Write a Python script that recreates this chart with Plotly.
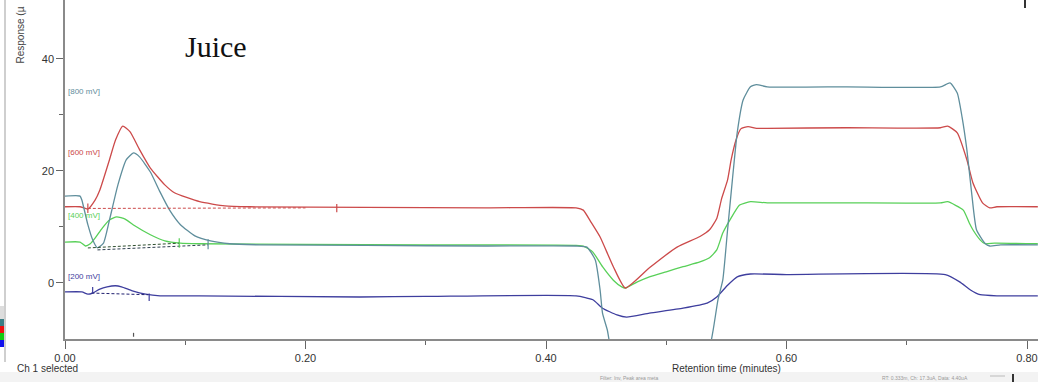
import plotly.graph_objects as go

# ---------------- data ----------------
t_800 = [0.0, 0.0125, 0.014, 0.019, 0.023, 0.027, 0.032, 0.037, 0.044, 0.051,
         0.057, 0.062, 0.071, 0.079, 0.087, 0.096, 0.108, 0.121, 0.137, 0.162,
         0.25, 0.35, 0.425, 0.434, 0.441, 0.445, 0.447, 0.451, 0.455, 0.50,
         0.535, 0.539, 0.543, 0.547, 0.551, 0.555, 0.559, 0.564, 0.570, 0.575,
         0.584, 0.65, 0.728, 0.736, 0.742, 0.746, 0.750, 0.754, 0.758, 0.765,
         0.769, 0.778, 0.809]
r_800 = [15.5, 15.5, 14.8, 10.4, 7.7, 6.25, 7.1, 11.25, 17.5, 22.0,
         23.2, 22.5, 19.8, 16.25, 13.0, 10.4, 8.4, 7.5, 7.0, 6.8,
         6.7, 6.6, 6.6, 6.4, 4.1, -1.25, -5.4, -8.4, -12.0, -16.0,
         -12.0, -8.4, -3.0, 0.5, 9.5, 18.4, 26.8, 32.7, 35.0, 35.4,
         35.0, 35.0, 35.0, 35.7, 33.9, 29.6, 23.75, 16.0, 9.5, 7.1,
         6.6, 6.8, 6.8]

t_600 = [0.0, 0.0125, 0.019, 0.025, 0.029, 0.037, 0.042, 0.048, 0.054, 0.062,
         0.071, 0.083, 0.091, 0.112, 0.133, 0.154, 0.25, 0.35, 0.425, 0.431,
         0.437, 0.445, 0.456, 0.466, 0.486, 0.509, 0.528, 0.536, 0.542, 0.546,
         0.551, 0.554, 0.558, 0.562, 0.568, 0.575, 0.584, 0.65, 0.728, 0.734,
         0.742, 0.750, 0.755, 0.763, 0.769, 0.775, 0.809]
r_600 = [13.6, 13.6, 13.2, 14.8, 16.6, 22.0, 25.5, 28.0, 27.0, 23.8,
         20.5, 17.5, 16.1, 14.5, 13.75, 13.6, 13.5, 13.4, 13.4, 13.0,
         11.0, 8.2, 2.9, -0.9, 2.7, 6.4, 8.3, 9.5, 11.5, 15.0,
         18.4, 22.0, 25.5, 27.5, 27.9, 27.6, 27.6, 27.7, 27.7, 28.0,
         26.8, 22.0, 17.9, 14.3, 13.4, 13.6, 13.6]

t_400 = [0.0, 0.0125, 0.017, 0.021, 0.025, 0.031, 0.037, 0.043, 0.050, 0.058,
         0.071, 0.083, 0.096, 0.112, 0.2, 0.3, 0.425, 0.432, 0.439, 0.447,
         0.456, 0.463, 0.466, 0.476, 0.486, 0.5, 0.514, 0.528, 0.536, 0.542,
         0.547, 0.553, 0.561, 0.570, 0.584, 0.65, 0.728, 0.734, 0.747, 0.752,
         0.755, 0.761, 0.765, 0.773, 0.809]
r_400 = [7.3, 7.3, 6.6, 7.0, 8.0, 9.8, 11.25, 11.8, 11.4, 10.2,
         8.6, 7.5, 7.1, 7.0, 6.9, 6.8, 6.7, 6.5, 5.5, 2.9,
         0.5, -0.7, -0.9, 0.2, 1.1, 2.0, 2.9, 3.75, 4.5, 5.9,
         8.9, 11.25, 13.9, 14.5, 14.3, 14.3, 14.3, 14.5, 13.0, 10.7,
         9.5, 7.7, 7.0, 7.1, 7.0]

t_200 = [0.0, 0.014, 0.019, 0.023, 0.029, 0.035, 0.042, 0.047, 0.056, 0.067,
         0.079, 0.112, 0.245, 0.3, 0.425, 0.439, 0.447, 0.459, 0.467, 0.486,
         0.514, 0.534, 0.542, 0.551, 0.559, 0.57, 0.6, 0.732, 0.744, 0.753,
         0.761, 0.775, 0.809]
r_200 = [-1.6, -1.6, -2.0, -1.8, -1.1, -0.7, -0.5, -0.7, -1.4, -2.0,
         -2.3, -2.3, -2.5, -2.4, -2.3, -3.0, -4.5, -5.7, -6.1, -5.4,
         -4.5, -3.6, -2.5, -0.4, 1.1, 1.6, 1.5, 1.5, 0.2, -1.25,
         -2.1, -2.3, -2.3]

channel_labels = ["[800 mV]", "[600 mV]", "[400 mV]", "[200 mV]"]
label_levels = [34.1, 23.2, 12.1, 1.1]

# integration baselines (start x, end x, start y, end y)
base_x0 = [0.019, 0.019, 0.027, 0.022]
base_x1 = [0.20, 0.095, 0.119, 0.069]
base_y0 = [13.3, 6.25, 5.9, -1.8]
base_y1 = [13.4, 7.1, 6.8, -2.1]

# peak start/end markers
mark_x = [0.019, 0.226, 0.095, 0.119, 0.023, 0.070, 0.057]
mark_lo = [12.5, 12.6, 6.3, 6.0, -1.9, -3.2, -9.6]
mark_hi = [14.2, 14.1, 8.0, 7.8, -0.7, -1.9, -8.9]

x_ticks = [0.0, 0.2, 0.4, 0.6, 0.8]
y_ticks = [0, 20, 40]

# ---------------- style ----------------
C800, C600, C400, C200 = "#5f8e9c", "#cc4a4a", "#58d058", "#3e3e9e"
base_colors = [C600, "#2f4f2f", "#2f3f4f", "#202070"]
mark_colors = [C600, C600, C400, C800, C200, C200, "#555555"]

W, H = 1038, 382
ML, MB = 65, 43
PW, PH = W - ML, H - MB


def px(xp):
    return (xp - ML) / PW


def py(yp):
    return (PH - yp) / PH


fig = go.Figure()
for t, r, c in [(t_200, r_200, C200), (t_400, r_400, C400),
                (t_600, r_600, C600), (t_800, r_800, C800)]:
    fig.add_trace(go.Scatter(x=t, y=r, mode="lines",
                             line=dict(color=c, width=1.3, shape="spline", smoothing=0.5),
                             hoverinfo="skip", showlegend=False))

for i in range(len(base_x0)):
    fig.add_trace(go.Scatter(x=[base_x0[i], base_x1[i]], y=[base_y0[i], base_y1[i]],
                             mode="lines", line=dict(color=base_colors[i], width=1, dash="3px,2px"),
                             hoverinfo="skip", showlegend=False))

for i in range(len(mark_x)):
    fig.add_trace(go.Scatter(x=[mark_x[i], mark_x[i]], y=[mark_lo[i], mark_hi[i]],
                             mode="lines", line=dict(color=mark_colors[i], width=1.2),
                             hoverinfo="skip", showlegend=False))

label_colors = [C800, C600, C400, C200]
annotations = []
for lab, lv, c in zip(channel_labels, label_levels, label_colors):
    annotations.append(dict(x=0.001, y=lv, xref="x", yref="y", text=lab, showarrow=False,
                            xanchor="left", yanchor="middle",
                            font=dict(family="Liberation Sans", size=8, color=c)))

annotations += [
    dict(x=px(216), y=py(47), xref="paper", yref="paper", text="Juice", showarrow=False,
         xanchor="center", yanchor="middle",
         font=dict(family="Liberation Serif", size=30, color="#111111")),
    dict(x=px(20), y=py(66), xref="paper", yref="paper", text="Response (µ", showarrow=False,
         textangle=-90, xanchor="center", yanchor="bottom",
         font=dict(family="Liberation Sans", size=10, color="#444444")),
    dict(x=px(670), y=py(368), xref="paper", yref="paper", text="Retention time (minutes)",
         showarrow=False, xanchor="left", yanchor="middle",
         font=dict(family="Liberation Sans", size=10, color="#333333")),
    dict(x=px(15), y=py(368), xref="paper", yref="paper", text="Ch 1 selected",
         showarrow=False, xanchor="left", yanchor="middle",
         font=dict(family="Liberation Sans", size=10, color="#333333")),
    dict(x=px(598), y=py(378), xref="paper", yref="paper", text="Filter: Inv, Peak area meta",
         showarrow=False, xanchor="left", yanchor="middle",
         font=dict(family="Liberation Sans", size=5, color="#999999")),
    dict(x=px(880), y=py(378), xref="paper", yref="paper", text="RT: 0.333m, Ch: 17.3uA, Data: 4.40uA",
         showarrow=False, xanchor="left", yanchor="middle",
         font=dict(family="Liberation Sans", size=5, color="#999999")),
]

shapes = [
    # bottom status strip
    dict(type="rect", xref="paper", yref="paper", x0=px(0), x1=px(W), y0=py(372), y1=py(H),
         fillcolor="#f3f3f3", line=dict(width=0), layer="below"),
    # left panel edge
    dict(type="line", xref="paper", yref="paper", x0=px(5), x1=px(5), y0=py(0), y1=py(362),
         line=dict(color="#cfcfcf", width=2)),
    # colour swatches
    dict(type="rect", xref="paper", yref="paper", x0=px(0), x1=px(4), y0=py(306), y1=py(319),
         fillcolor="#dddddd", line=dict(width=0)),
    dict(type="rect", xref="paper", yref="paper", x0=px(0), x1=px(4), y0=py(319), y1=py(326),
         fillcolor="#3a7f86", line=dict(width=0)),
    dict(type="rect", xref="paper", yref="paper", x0=px(0), x1=px(4), y0=py(326), y1=py(333),
         fillcolor="#ee1111", line=dict(width=0)),
    dict(type="rect", xref="paper", yref="paper", x0=px(0), x1=px(4), y0=py(333), y1=py(340),
         fillcolor="#11cc11", line=dict(width=0)),
    dict(type="rect", xref="paper", yref="paper", x0=px(0), x1=px(4), y0=py(340), y1=py(347),
         fillcolor="#1111ee", line=dict(width=0)),
    # small dark marks at the right edge
    dict(type="line", xref="paper", yref="paper", x0=px(1025), x1=px(1025), y0=py(0), y1=py(8),
         line=dict(color="#333333", width=2)),
    dict(type="line", xref="paper", yref="paper", x0=px(1013), x1=px(1013), y0=py(374), y1=py(H),
         line=dict(color="#333333", width=2)),
    dict(type="line", xref="paper", yref="paper", x0=px(990), x1=px(1005), y0=py(376), y1=py(376),
         line=dict(color="#bbbbbb", width=1)),
]

fig.update_layout(
    width=W, height=H,
    margin=dict(l=ML, r=0, t=0, b=MB),
    paper_bgcolor="white", plot_bgcolor="white",
    showlegend=False,
    annotations=annotations,
    shapes=shapes,
    xaxis=dict(range=[0, (W - ML) / 1202.5], tickvals=x_ticks, tickformat=".2f",
               showgrid=False, zeroline=False, showline=True, linecolor="#8a8a8a", linewidth=1.5,
               ticks="outside", ticklen=8, tickcolor="#666666",
               minor=dict(dtick=0.1, ticks="outside", ticklen=4, tickcolor="#666666"),
               tickfont=dict(family="Liberation Sans", size=11, color="#333333")),
    yaxis=dict(range=[-10, 50.5], tickvals=y_ticks,
               showgrid=False, zeroline=False, showline=True, linecolor="#8a8a8a", linewidth=1.5,
               ticks="outside", ticklen=7, tickcolor="#666666",
               minor=dict(tickvals=[10, 30], ticks="outside", ticklen=4, tickcolor="#666666"),
               tickfont=dict(family="Liberation Sans", size=11, color="#333333")),
)

fig.write_html("out.html")
